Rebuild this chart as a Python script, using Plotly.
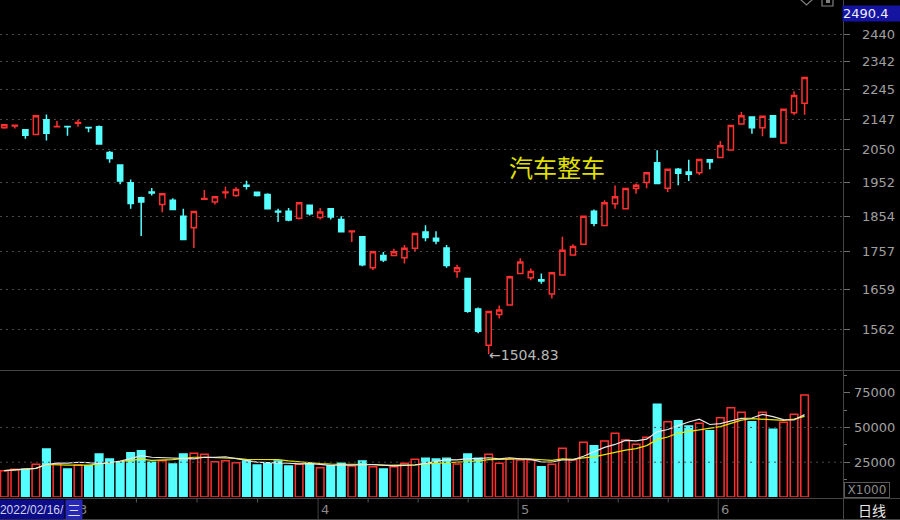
import math
import pandas as pd
import plotly.graph_objects as go

# ---------------- data ----------------
idx = list(range(77))
opens = [2119, 2125, 2113, 2098, 2145, 2122, 2123, 2134, 2120, 2122,
         2041, 2003, 1950, 1906, 1923, 1887, 1899, 1854, 1822, 1902,
         1894, 1921, 1913, 1943, 1922, 1916, 1868, 1868, 1848, 1885,
         1850, 1875, 1845, 1811, 1797, 1715, 1747, 1747, 1741, 1766,
         1810, 1793, 1767, 1705, 1687, 1611, 1525, 1598, 1621, 1700,
         1689, 1684, 1648, 1696, 1748, 1777, 1868, 1828, 1889, 1875,
         1933, 1951, 2010, 1934, 1990, 1982, 1980, 2019, 2026, 2049,
         2131, 2154, 2119, 2158, 2071, 2168, 2199]
highs = [2130, 2127, 2114, 2160, 2162, 2141, 2123, 2145, 2120, 2126,
         2046, 2004, 1960, 1909, 1935, 1919, 1905, 1875, 1868, 1929,
         1910, 1938, 1937, 1956, 1923, 1919, 1875, 1877, 1892, 1885,
         1877, 1875, 1854, 1813, 1798, 1758, 1756, 1765, 1775, 1806,
         1829, 1812, 1775, 1723, 1689, 1615, 1606, 1620, 1694, 1740,
         1713, 1700, 1703, 1797, 1777, 1855, 1873, 1899, 1942, 1935,
         1948, 1981, 2048, 1991, 1994, 2019, 2021, 2019, 2077, 2126,
         2170, 2155, 2157, 2160, 2180, 2239, 2287]
lows = [2116, 2117, 2084, 2097, 2079, 2121, 2094, 2122, 2105, 2066,
        2010, 1946, 1875, 1799, 1913, 1865, 1872, 1789, 1767, 1902,
        1887, 1904, 1909, 1930, 1910, 1874, 1838, 1840, 1845, 1856,
        1845, 1845, 1810, 1783, 1719, 1709, 1730, 1746, 1726, 1759,
        1785, 1777, 1715, 1689, 1602, 1553, 1504.83, 1588, 1620, 1699,
        1683, 1674, 1637, 1695, 1747, 1775, 1826, 1827, 1875, 1874,
        1918, 1934, 1947, 1923, 1943, 1955, 1973, 1990, 2025, 2048,
        2130, 2100, 2092, 2088, 2070, 2160, 2161]
closes = [2129, 2127, 2095, 2158, 2102, 2123, 2122, 2136, 2119, 2068,
          2023, 1955, 1890, 1894, 1920, 1918, 1873, 1790, 1867, 1904,
          1909, 1923, 1930, 1940, 1913, 1875, 1866, 1843, 1892, 1861,
          1866, 1852, 1811, 1813, 1723, 1757, 1735, 1757, 1766, 1806,
          1795, 1786, 1721, 1715, 1606, 1558, 1605, 1609, 1692, 1730,
          1705, 1681, 1702, 1761, 1771, 1854, 1834, 1892, 1909, 1933,
          1943, 1980, 1948, 1990, 1978, 1975, 2020, 2012, 2062, 2126,
          2158, 2119, 2156, 2090, 2179, 2225, 2286]
volumes = [18900, 19900, 19900, 23500, 34500, 23700, 20100, 23000, 22500, 30900,
           27300, 25400, 31800, 33300, 24900, 26100, 23700, 30900, 31400, 30700,
           25400, 26100, 24600, 25900, 23000, 24200, 25900, 22300, 23500, 24200,
           21000, 22500, 24200, 22300, 25900, 21800, 20100, 21800, 24200, 27100,
           27800, 27300, 27800, 23700, 30900, 27800, 30700, 24200, 27300, 26600,
           26600, 21800, 23500, 35000, 26600, 39300, 36900, 40200, 45800, 41000,
           37900, 42900, 66600, 54100, 54800, 51000, 52900, 47600, 57000, 64200,
           60800, 54100, 60800, 48600, 53700, 59400, 73300]

price_ticks = [1562, 1659, 1757, 1854, 1952, 2050, 2147, 2245, 2342, 2440]
vol_ticks = [25000, 50000, 75000]
vol_grid = [25000, 50000]
month_labels = ["3", "4", "5", "6"]
month_start = [7, 30, 49, 68]
sector_name = "汽车整车"
header_value = "2490.4"
date_text = "2022/02/16/"
weekday_text = "三"
period_text = "日线"
unit_text = "X1000"

# ---------------- style ----------------
W, H = 900, 520
RED = "#ff3030"
CYAN = "#55ffff"
GRAY_TXT = "#a0a0a0"
LINE = "#444444"
X_END = 843


def px(x):
    return x / W


def py(y):
    return 1 - y / H


ma5 = pd.Series(volumes).rolling(5, min_periods=1).mean()
ma10 = pd.Series(volumes).rolling(10, min_periods=1).mean()
up = [c >= o for o, c in zip(opens, closes)]

fig = go.Figure()
fig.add_trace(go.Candlestick(
    x=idx, open=opens, high=highs, low=lows, close=closes,
    xaxis="x", yaxis="y",
    increasing=dict(line=dict(color=RED, width=1.5), fillcolor="black"),
    decreasing=dict(line=dict(color=CYAN, width=1.5), fillcolor=CYAN),
    whiskerwidth=0, hoverinfo="skip", showlegend=False))

fig.add_trace(go.Bar(
    x=idx, y=volumes, xaxis="x2", yaxis="y2", width=0.72,
    marker=dict(color=["black" if u else CYAN for u in up],
                line=dict(color=[RED if u else CYAN for u in up], width=1.5)),
    hoverinfo="skip", showlegend=False))
fig.add_trace(go.Scatter(x=idx, y=ma10, xaxis="x2", yaxis="y2", mode="lines",
                         line=dict(color="#e6e600", width=1.2), hoverinfo="skip",
                         showlegend=False))
fig.add_trace(go.Scatter(x=idx, y=ma5, xaxis="x2", yaxis="y2", mode="lines",
                         line=dict(color="#e8e8e8", width=1.2), hoverinfo="skip",
                         showlegend=False))

xr = [-4.3 / 10.53, (X_END - 4.3) / 10.53]
top_log = math.log10(2440) + 34.5 / 1523
bot_log = math.log10(2440) - 335.5 / 1523

axis_common = dict(showticklabels=False, zeroline=False, showline=False, fixedrange=True)
fig.update_layout(
    width=W, height=H, margin=dict(l=0, r=0, t=0, b=0),
    paper_bgcolor="black", plot_bgcolor="black", showlegend=False,
    boxgap=0.3, hovermode=False,
    xaxis=dict(domain=[0, px(X_END)], range=xr, showgrid=False,
               rangeslider=dict(visible=False), anchor="y", **axis_common),
    yaxis=dict(domain=[py(370), 1], type="log", range=[bot_log, top_log],
               side="right", anchor="x", tickvals=price_ticks, ticks="outside",
               ticklen=6, tickcolor="#707070", showgrid=True, gridcolor="#4a4a4a",
               griddash="2px,4px", gridwidth=1, **axis_common),
    xaxis2=dict(domain=[0, px(X_END)], range=xr, showgrid=False, anchor="y2",
                **axis_common),
    yaxis2=dict(domain=[py(497), py(372)], range=[0, 125 / 34.8 * 25000],
                side="right", anchor="x2", tickvals=vol_ticks, ticks="outside",
                ticklen=6, tickcolor="#707070", showgrid=False,
                minor=dict(dtick=12500, ticks="outside", ticklen=3, tickcolor="#707070"),
                **axis_common),
)

shapes = []
# frame lines
shapes.append(dict(type="line", xref="paper", yref="paper", x0=px(X_END + 0.5), x1=px(X_END + 0.5),
                   y0=0, y1=1, line=dict(color=LINE, width=1)))
for yy in (370.5, 498.5, 519.5):
    shapes.append(dict(type="line", xref="paper", yref="paper", x0=0, x1=1,
                       y0=py(yy), y1=py(yy), line=dict(color=LINE, width=1)))
# volume grid
for v in vol_grid:
    shapes.append(dict(type="line", xref="paper", yref="y2", x0=0, x1=px(X_END),
                       y0=v, y1=v, line=dict(color="#4a4a4a", width=1, dash="2px,4px")))
# month boundaries and quarter ticks in the date strip
bounds = month_start + [None]
for k, s in enumerate(month_start):
    xb = s - 0.2
    shapes.append(dict(type="line", xref="x2", yref="paper", x0=xb, x1=xb,
                       y0=py(499), y1=py(519), line=dict(color=LINE, width=1)))
    e = bounds[k + 1]
    if e is not None:
        for q in (1, 2, 3):
            xt = xb + (e - s) * q / 4
            shapes.append(dict(type="line", xref="x2", yref="paper", x0=xt, x1=xt,
                               y0=py(499), y1=py(502.5), line=dict(color="#555555", width=1)))
# top icons
shapes.append(dict(type="path", xref="paper", yref="paper",
                   path=f"M {px(800)},{py(-1)} L {px(806.5)},{py(5)} L {px(813)},{py(-1)}",
                   line=dict(color="#808080", width=1.2)))
shapes.append(dict(type="rect", xref="paper", yref="paper", x0=px(822), x1=px(833),
                   y0=py(6), y1=py(-3), line=dict(color="#808080", width=1.2)))
shapes.append(dict(type="rect", xref="paper", yref="paper", x0=px(826), x1=px(830),
                   y0=py(3), y1=py(-3), fillcolor="#808080", line=dict(width=0)))

ann = []
FONT = "DejaVu Sans"
for v in price_ticks:
    ann.append(dict(x=px(897), xref="paper", y=math.log10(v), yref="y", text=str(v),
                    xanchor="right", yanchor="middle", showarrow=False,
                    font=dict(family=FONT, size=13, color=GRAY_TXT)))
for v in vol_ticks:
    ann.append(dict(x=px(897), xref="paper", y=v, yref="y2", text=str(v),
                    xanchor="right", yanchor="middle", showarrow=False,
                    font=dict(family=FONT, size=13, color=GRAY_TXT)))
for lab, s in zip(month_labels, month_start):
    ann.append(dict(x=s - 0.2, xref="x2", y=py(509.5), yref="paper", text=lab,
                    xanchor="left", yanchor="middle", xshift=1, showarrow=False,
                    font=dict(family=FONT, size=13, color="#8a8a8a")))
# date box (drawn after the month labels so it covers the first one)
ann.append(dict(x=px(65), xref="paper", y=py(509.5), yref="paper", text=date_text,
                xanchor="right", yanchor="middle", showarrow=False, align="right",
                width=66, height=19, bgcolor="#0c0c88", borderpad=0,
                font=dict(family="Liberation Sans", size=12, color="#d0d0e8")))
ann.append(dict(x=px(65), xref="paper", y=py(509.5), yref="paper", text=weekday_text,
                xanchor="left", yanchor="middle", showarrow=False,
                width=16, height=19, bgcolor="#2828b8", borderpad=0,
                font=dict(family="Noto Sans CJK SC", size=13, color="#e0e0f0")))
# period label and unit box
ann.append(dict(x=px(871.5), xref="paper", y=py(509.5), yref="paper", text=period_text,
                xanchor="center", yanchor="middle", showarrow=False,
                font=dict(family="Noto Sans CJK SC", size=14, color="#e8e8e8")))
ann.append(dict(x=px(844), xref="paper", y=py(490), yref="paper", text=unit_text,
                xanchor="left", yanchor="middle", showarrow=False, width=44, height=14,
                bordercolor="#5a5a5a", borderwidth=1, borderpad=0,
                font=dict(family=FONT, size=12, color="#8a8a8a")))
# header value box
ann.append(dict(x=px(842), xref="paper", y=py(13), yref="paper", text=header_value,
                xanchor="left", yanchor="middle", showarrow=False, align="left",
                width=57, height=15, bgcolor="#1414a0", borderpad=0,
                font=dict(family=FONT, size=13, color="#eeeeff")))
# sector name
ann.append(dict(x=px(557), xref="paper", y=py(166), yref="paper", text=sector_name,
                xanchor="center", yanchor="middle", showarrow=False,
                font=dict(family="Noto Sans CJK SC", size=24, color="#e0e000")))
# lowest price marker
li = lows.index(min(lows))
ann.append(dict(x=li, xref="x", y=math.log10(lows[li]), yref="y",
                text="←" + f"{lows[li]:.2f}", xanchor="left", yanchor="middle",
                yshift=-1, xshift=-2, showarrow=False,
                font=dict(family=FONT, size=14, color="#b8b8b8")))

fig.update_layout(shapes=shapes, annotations=ann)
fig.write_html("out.html", config={"displayModeBar": False},
               post_script="document.body.style.margin='0';"
                           "document.body.style.overflow='hidden';"
                           "document.documentElement.style.overflow='hidden';")
